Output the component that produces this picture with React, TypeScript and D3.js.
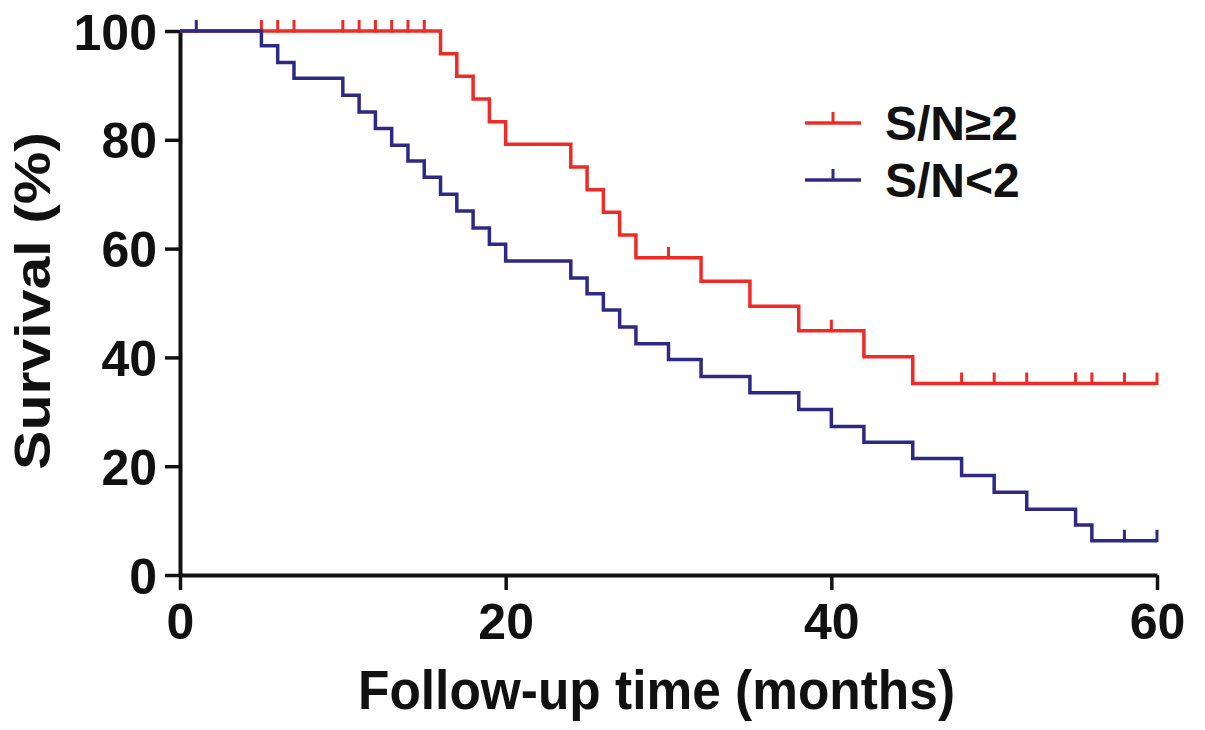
import { useEffect, useRef } from "react";
import * as d3 from "d3";

// Kaplan-Meier steps (time in months, survival in %)
const highTimes = [0, 16, 17, 18, 19, 20, 24, 25, 26, 27, 28, 32, 35, 38, 42, 45];
const highSurv = [100, 95.8, 91.7, 87.5, 83.3, 79.2, 75, 70.8, 66.7, 62.5, 58.3, 54, 49.4, 44.9, 40.1, 35.2];
const highCensor = [5, 6, 7, 10, 11, 12, 13, 14, 15, 30, 40, 48, 50, 52, 55, 56, 58, 60];

const lowTimes = [0, 5, 6, 7, 10, 11, 12, 13, 14, 15, 16, 17, 18, 19, 20, 24, 25, 26, 27, 28, 30, 32, 35, 38, 40, 42, 45, 48, 50, 52, 55, 56];
const lowSurv = [100, 97.3, 94.2, 91.3, 88.2, 85.1, 82.1, 79, 76.1, 73.1, 70, 66.9, 63.8, 60.8, 57.7, 54.6, 51.7, 48.7, 45.6, 42.5, 39.6, 36.5, 33.5, 30.4, 27.3, 24.4, 21.4, 18.3, 15.2, 12.1, 9.2, 6.3];
const lowCensor = [1, 58, 60];

const seriesNames = ["S/N≥2", "S/N<2"];
const seriesColors = ["#ef2b25", "#2d2985"];
const xTicks = [0, 20, 40, 60];
const yTicks = [0, 20, 40, 60, 80, 100];
const tEnd = 60;

const W = 1205;
const H = 730;
const FONT = "'Liberation Sans', Arial, Helvetica, sans-serif";

export default function App() {
  const svgRef = useRef<SVGSVGElement>(null);

  useEffect(() => {
    if (!svgRef.current) return;
    const svg = d3.select(svgRef.current);
    svg.selectAll("*").remove();

    const m = { top: 31, right: 48, bottom: 155, left: 180 };
    const iW = W - m.left - m.right;
    const iH = H - m.top - m.bottom;
    const g = svg.append("g").attr("transform", `translate(${m.left},${m.top})`);

    const x = d3.scaleLinear().domain([0, 60]).range([0, iW]);
    const y = d3.scaleLinear().domain([0, 100]).range([iH, 0]);

    // Axes
    const xAxis = g.append("g").attr("transform", `translate(0,${iH})`)
      .call(d3.axisBottom(x).tickValues(xTicks).tickSize(15).tickPadding(10).tickSizeOuter(0));
    const yAxis = g.append("g")
      .call(d3.axisLeft(y).tickValues(yTicks).tickSize(15).tickPadding(8).tickSizeOuter(0));
    [xAxis, yAxis].forEach((a) => {
      a.select(".domain").attr("stroke", "#111").attr("stroke-width", 4);
      a.selectAll(".tick line").attr("stroke", "#111").attr("stroke-width", 3.5);
      a.selectAll(".tick text").attr("fill", "#111").attr("font-size", "50px")
        .attr("font-weight", "bold").attr("font-family", FONT);
    });
    xAxis.selectAll(".tick text").attr("dy", "0.78em");
    yAxis.selectAll(".tick text").attr("dy", "0.36em");

    // Axis titles
    g.append("text").attr("x", iW / 2 - 12).attr("y", iH + 134)
      .attr("text-anchor", "middle").attr("font-family", FONT).attr("font-weight", "bold")
      .attr("font-size", "55px").attr("fill", "#111")
      .attr("textLength", 597).attr("lengthAdjust", "spacingAndGlyphs")
      .text("Follow-up time (months)");
    g.append("text").attr("transform", `translate(${-130},${iH / 2 - 2}) rotate(-90)`)
      .attr("text-anchor", "middle").attr("font-family", FONT).attr("font-weight", "bold")
      .attr("font-size", "50px").attr("fill", "#111")
      .attr("textLength", 338).attr("lengthAdjust", "spacingAndGlyphs")
      .text("Survival (%)");

    const line = d3.line<[number, number]>()
      .x((d) => x(d[0])).y((d) => y(d[1])).curve(d3.curveStepAfter);

    const series = [
      { times: highTimes, surv: highSurv, censor: highCensor },
      { times: lowTimes, surv: lowSurv, censor: lowCensor },
    ];

    series.forEach((s, i) => {
      const pts: [number, number][] = s.times.map((t, k) => [t, s.surv[k]]);
      pts.push([tEnd, s.surv[s.surv.length - 1]]);
      g.append("path").datum(pts)
        .attr("fill", "none").attr("stroke", seriesColors[i]).attr("stroke-width", 3.5)
        .attr("d", line);

      const survAt = (t: number) => {
        let v = 100;
        s.times.forEach((tt, k) => { if (tt <= t) v = s.surv[k]; });
        return v;
      };
      g.selectAll(null).data(s.censor).enter().append("line")
        .attr("x1", (d) => x(d)).attr("x2", (d) => x(d))
        .attr("y1", (d) => y(survAt(d)) + 1.5).attr("y2", (d) => y(survAt(d)) - 11)
        .attr("stroke", seriesColors[i]).attr("stroke-width", 3);
    });

    // Legend
    const lg = svg.append("g").attr("transform", "translate(805,123)");
    seriesNames.forEach((name, i) => {
      const row = lg.append("g").attr("transform", `translate(0,${i * 57})`);
      row.append("line").attr("x1", 0).attr("x2", 56).attr("y1", 0).attr("y2", 0)
        .attr("stroke", seriesColors[i]).attr("stroke-width", 3.5);
      row.append("line").attr("x1", 28).attr("x2", 28).attr("y1", 0).attr("y2", -11)
        .attr("stroke", seriesColors[i]).attr("stroke-width", 3);
      row.append("text").attr("x", 80).attr("y", 17)
        .attr("font-family", FONT).attr("font-weight", "bold").attr("font-size", "48px")
        .attr("fill", "#111").text(name);
    });
  }, []);

  return (
    <div style={{ position: "absolute", left: 0, top: 0, width: W, height: H, background: "#fff" }}>
      <svg ref={svgRef} width={W} height={H} />
    </div>
  );
}
